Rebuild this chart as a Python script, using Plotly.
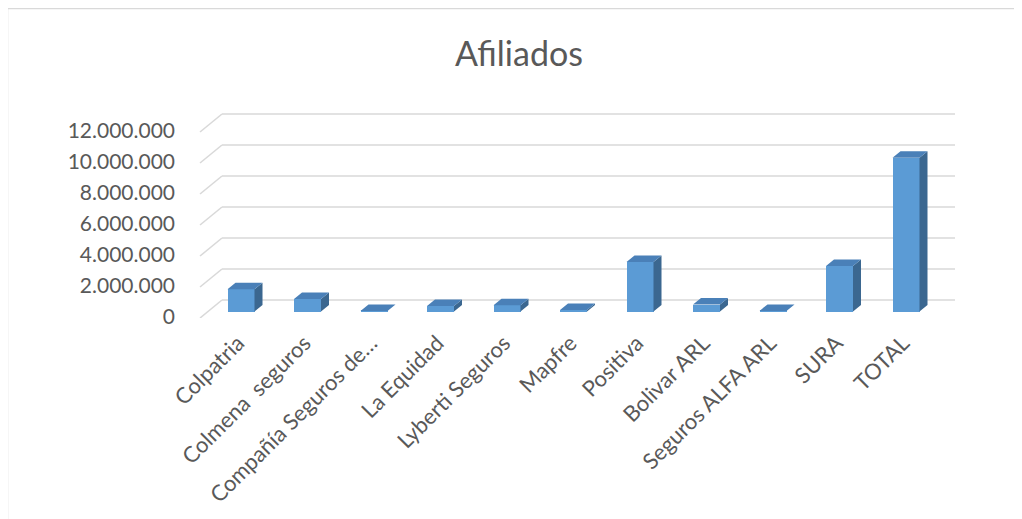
import plotly.graph_objects as go

# ---- data ----
categories = ["Colpatria", "Colmena\u00a0 seguros", "Compañía Seguros de…", "La Equidad",
              "Lyberti Seguros", "Mapfre", "Positiva", "Bolivar ARL",
              "Seguros ALFA ARL", "SURA", "TOTAL"]
afiliados = [1430000, 800000, 40000, 350000, 400000, 100000, 3200000, 450000,
             40000, 2940000, 9920000]
y_ticks = [0, 2000000, 4000000, 6000000, 8000000, 10000000, 12000000]

# ---- geometry (screen pixels; page body has an 8px margin) ----
OFF = 8
W, H = 1022 - OFF, 519 - OFF
L, R = 200 - OFF, 955 - OFF      # plot area left / right
T, B = 100 - OFF, 318 - OFF      # plot area top / bottom
pitch = 66.5                     # px per category
first_center = 241 - OFF         # px centre of first bar
base_px = 311.5 - OFF            # px of bar baseline
back_px = 300 - OFF              # px of back-wall zero gridline
px_per_m = 15.5                  # px per million
depth_dx, depth_dy = 8, 6.5

xr0 = -(first_center - L) / pitch
xr1 = xr0 + (R - L) / pitch
yr0 = -(B - base_px) / px_per_m * 1e6
yr1 = yr0 + (B - T) / px_per_m * 1e6

bw = 27 / pitch
ddx = depth_dx / pitch
ddy = depth_dy / px_per_m * 1e6

xs = list(range(len(categories)))

front_col = "#5B9BD5"
side_col = "#3B6790"
top_col = "#4A80B8"
text_col = "#595959"
grid_col = "#D9D9D9"

fig = go.Figure()

fig.add_trace(go.Bar(x=xs, y=afiliados, width=bw, marker=dict(color=front_col, line=dict(width=0)),
                     hoverinfo="skip", showlegend=False))

side_x, side_y, top_x, top_y = [], [], [], []
for x, v in zip(xs, afiliados):
    r = x + bw / 2
    l = x - bw / 2
    side_x += [r, r + ddx, r + ddx, r, r, None]
    side_y += [0, ddy, v + ddy, v, 0, None]
    top_x += [l, r, r + ddx, l + ddx, l, None]
    top_y += [v, v, v + ddy, v + ddy, v, None]

fig.add_trace(go.Scatter(x=side_x, y=side_y, mode="lines", fill="toself", fillcolor=side_col,
                         line=dict(width=0, color=side_col), hoverinfo="skip", showlegend=False))
fig.add_trace(go.Scatter(x=top_x, y=top_y, mode="lines", fill="toself", fillcolor=top_col,
                         line=dict(width=0, color=top_col), hoverinfo="skip", showlegend=False))

shapes = []
back_off = (base_px - back_px) / px_per_m * 1e6
front_off = -(B - base_px) / px_per_m * 1e6
slant_px = 22
for v in y_ticks:
    shapes.append(dict(type="line", xref="paper", yref="y", x0=slant_px / (R - L), x1=1,
                       y0=v + back_off, y1=v + back_off, layer="below",
                       line=dict(color=grid_col, width=1.6)))
    shapes.append(dict(type="line", xref="paper", yref="y", x0=0, x1=slant_px / (R - L),
                       y0=v + front_off, y1=v + back_off, layer="below",
                       line=dict(color=grid_col, width=1.6)))

# outer chart border (only left and top visible)
pw, ph = R - L, B - T
shapes.append(dict(type="rect", xref="paper", yref="paper",
                   x0=(7.5 - OFF - L) / pw + 0.0, x1=(1040 - L) / pw,
                   y0=(B - 540) / ph, y1=(B - (8.5 - OFF)) / ph,
                   line=dict(color=grid_col, width=1.5), layer="below"))

fig.update_layout(
    width=W, height=H,
    margin=dict(l=L, r=W - R, t=T, b=H - B, autoexpand=False),
    paper_bgcolor="white", plot_bgcolor="white",
    separators=",.",
    title=dict(text="Afiliados", x=(519 - OFF) / W, xanchor="center",
               y=1 - (54 - OFF) / H, yanchor="middle",
               xref="container", yref="container",
               font=dict(family="Lato", size=34, color=text_col)),
    xaxis=dict(range=[xr0, xr1], tickmode="array", tickvals=xs, ticktext=categories,
               tickangle=-45, showgrid=False, zeroline=False, showline=False, ticks="",
               tickfont=dict(family="Lato", size=22, color=text_col),
               ticklabelstandoff=7, ticklabelshift=-3),
    yaxis=dict(range=[yr0, yr1], tickmode="array", tickvals=y_ticks, tickformat=",d",
               showgrid=False, zeroline=False, showline=False, ticks="",
               tickfont=dict(family="Lato", size=21, color=text_col),
               ticklabelstandoff=24, ticklabelshift=5),
    shapes=shapes,
    bargap=0,
)

fig.write_html("out.html")
